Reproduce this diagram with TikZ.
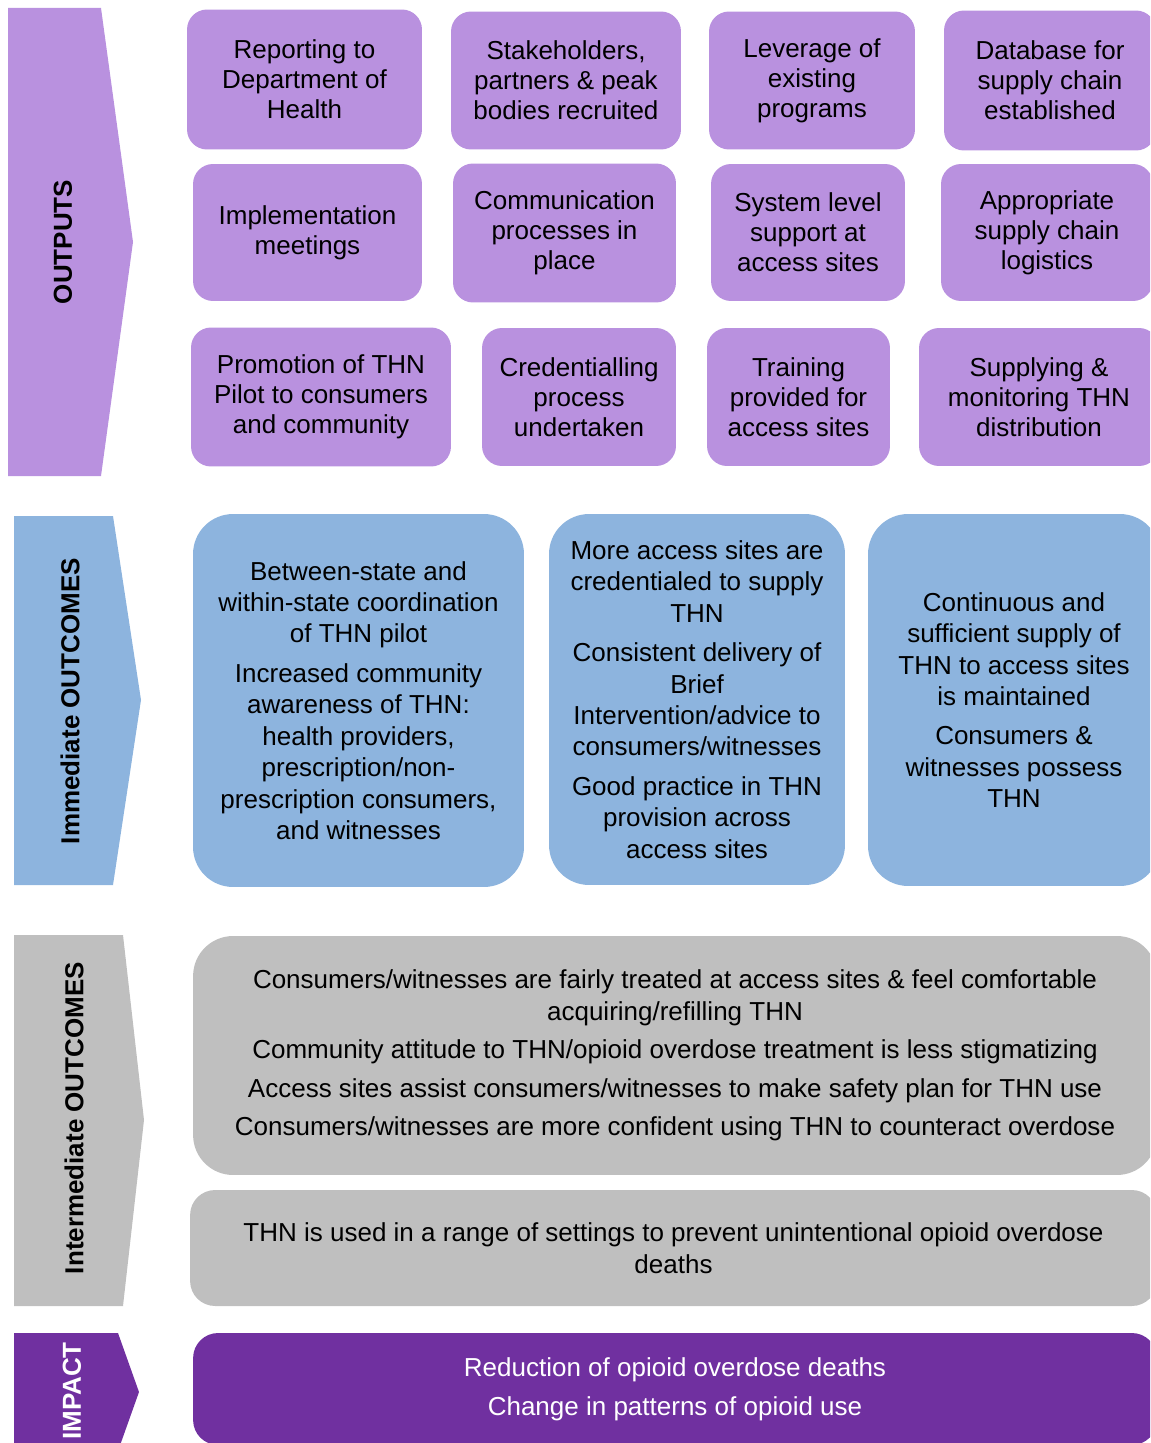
\documentclass[tikz,border=0pt]{standalone}
\usepackage{fontspec}
\setmainfont{Liberation Sans}
\usepackage{xcolor}
\usetikzlibrary{positioning}

\definecolor{outlilac}{RGB}{185,145,223}
\definecolor{imblue}{RGB}{141,180,222}
\definecolor{midgrey}{RGB}{191,191,191}
\definecolor{imppurple}{RGB}{112,48,160}

\newcommand{\boxfont}{\fontsize{14.8}{17.9}\selectfont}
\newcommand{\outfont}{\fontsize{14.8}{17}\selectfont}
\newcommand{\tagfont}{\fontsize{14.8}{17}\selectfont\bfseries}

\begin{document}
\begin{tikzpicture}[x=0.02cm, y=-0.02cm,
    outbox/.style={fill=outlilac, rounded corners=0.4cm, align=center, font=\outfont, inner sep=0pt},
    imbox/.style={fill=imblue, rounded corners=0.8cm, align=center, font=\boxfont, inner sep=0pt},
    midbox/.style={fill=midgrey, rounded corners=0.8cm, align=center, font=\boxfont, inner sep=0pt},
    impbox/.style={fill=imppurple, rounded corners=0.5cm, align=center, font=\boxfont, text=white, inner sep=0pt},
    tagtext/.style={rotate=90, font=\tagfont, inner sep=0pt}]
    \useasboundingbox (0,0) rectangle (1150,1443);
    \clip (0,0) rectangle (1150,1443);

    % stage arrows on the left
    \fill[outlilac] (8,8) -- (101,8) -- (133,242) -- (101,476) -- (8,476) -- cycle;
    \fill[imblue] (14,516) -- (113,516) -- (141,700) -- (113,885) -- (14,885) -- cycle;
    \fill[midgrey] (14,935) -- (123,935) -- (144,1120) -- (123,1306) -- (14,1306) -- cycle;
    \fill[imppurple] (14,1333) -- (118,1333) -- (139,1392) -- (118,1451) -- (14,1451) -- cycle;
    \node[tagtext] (outtag) at (63,242) {OUTPUTS};
    \node[tagtext] (imtag) at (70,701) {Immediate OUTCOMES};
    \node[tagtext] (midtag) at (74,1118) {Intermediate OUTCOMES};
    \node[tagtext, text=white] (imptag) at (72,1391) {IMPACT};

    % outputs
    \node[outbox, minimum width=4.70cm, minimum height=2.80cm] (report) at (304.5,79.5) {Reporting to\\Department of\\Health};
    \node[outbox, minimum width=4.60cm, minimum height=2.76cm] (stake) at (566,80.5) {Stakeholders,\\partners \& peak\\bodies recruited};
    \node[outbox, minimum width=4.12cm, minimum height=2.76cm] (leverage) at (812,80.5) {Leverage of\\existing\\programs};
    \node[outbox, minimum width=4.24cm, minimum height=2.80cm] (dbase) at (1050,80.5) {Database for\\supply chain\\established};

    \node[outbox, minimum width=4.58cm, minimum height=2.74cm] (meetings) at (307.5,232.5) {Implementation\\meetings};
    \node[outbox, minimum width=4.46cm, minimum height=2.78cm] (comms) at (564.5,233) {Communication\\processes in\\place};
    \node[outbox, minimum width=3.88cm, minimum height=2.74cm] (syslevel) at (808,232.5) {System level\\support at\\access sites};
    \node[outbox, minimum width=4.24cm, minimum height=2.74cm] (logistics) at (1047,232.5) {Appropriate\\supply chain\\logistics};

    \node[outbox, minimum width=5.20cm, minimum height=2.78cm] (promo) at (321,397) {Promotion of THN\\Pilot to consumers\\and community};
    \node[outbox, minimum width=3.88cm, minimum height=2.76cm] (cred) at (579,397) {Credentialling\\process\\undertaken};
    \node[outbox, minimum width=3.66cm, minimum height=2.76cm] (training) at (798.5,397) {Training\\provided for\\access sites};
    \node[outbox, minimum width=4.80cm, minimum height=2.76cm] (supplying) at (1039,397) {Supplying \&\\monitoring THN\\distribution};

    % immediate outcomes
    \node[imbox, minimum width=6.62cm, minimum height=7.46cm] (coord) at (358.5,700.5) {Between-state and\\within-state coordination\\of THN pilot\\[4.5pt]Increased community\\awareness of THN:\\health providers,\\prescription/non-\\prescription consumers,\\and witnesses};
    \node[imbox, minimum width=5.92cm, minimum height=7.42cm] (sites) at (697,699.5) {More access sites are\\credentialed to supply\\THN\\[4.5pt]Consistent delivery of\\Brief\\Intervention/advice to\\consumers/witnesses\\[4.5pt]Good practice in THN\\provision across\\access sites};
    \node[imbox, minimum width=5.84cm, minimum height=7.44cm] (supplyim) at (1014,700) {Continuous and\\sufficient supply of\\THN to access sites\\is maintained\\[4.5pt]Consumers \&\\witnesses possess\\THN};

    % intermediate outcomes
    \node[midbox, minimum width=19.28cm, minimum height=4.78cm] (treated) at (675,1055.5) {Consumers/witnesses are fairly treated at access sites \& feel comfortable\\acquiring/refilling THN\\[4pt]Community attitude to THN/opioid overdose treatment is less stigmatizing\\[4pt]Access sites assist consumers/witnesses to make safety plan for THN use\\[4pt]Consumers/witnesses are more confident using THN to counteract overdose};
    \node[midbox, rounded corners=0.5cm, minimum width=19.34cm, minimum height=2.32cm] (settings) at (673.5,1248) {THN is used in a range of settings to prevent unintentional opioid overdose\\deaths};

    % impact
    \node[impbox, minimum width=19.28cm, minimum height=2.24cm] (impact) at (675,1389) {Reduction of opioid overdose deaths\\[4.5pt]Change in patterns of opioid use};
\end{tikzpicture}
\end{document}
